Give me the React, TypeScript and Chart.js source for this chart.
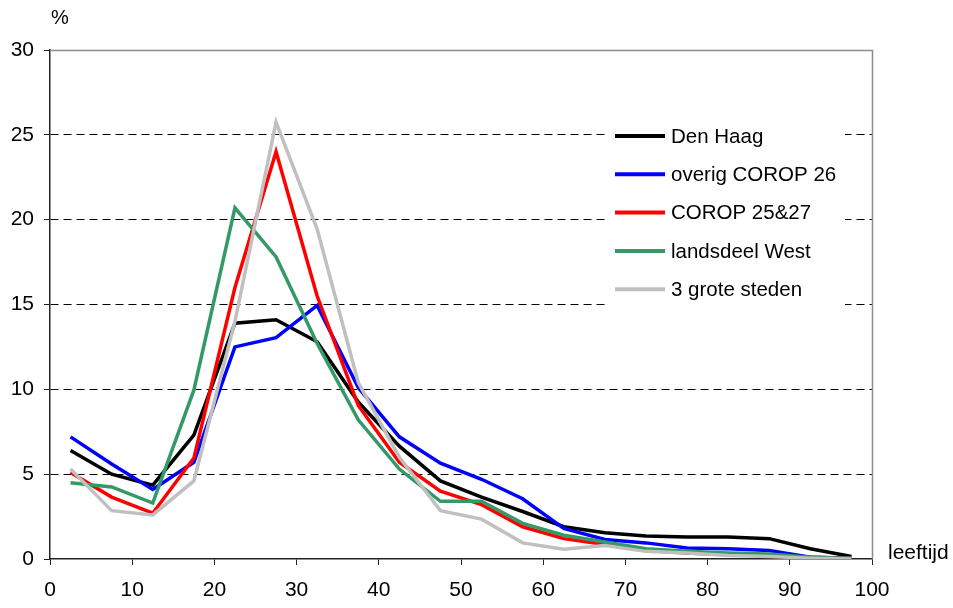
import React, { useEffect, useRef } from "react";
import { Chart, registerables } from "chart.js";

Chart.register(...registerables);

const ages = [2.5, 7.5, 12.5, 17.5, 22.5, 27.5, 32.5, 37.5, 42.5, 47.5, 52.5, 57.5, 62.5, 67.5, 72.5, 77.5, 82.5, 87.5, 92.5, 97.5];

const denHaag = [6.4, 5.0, 4.35, 7.3, 13.9, 14.1, 12.8, 9.25, 6.65, 4.6, 3.65, 2.8, 1.9, 1.55, 1.35, 1.3, 1.3, 1.2, 0.6, 0.15];
const overigCorop26 = [7.2, 5.6, 4.1, 5.7, 12.5, 13.05, 14.95, 10.1, 7.2, 5.65, 4.7, 3.55, 1.8, 1.15, 0.95, 0.65, 0.6, 0.5, 0.1, 0.05];
const corop2527 = [5.1, 3.65, 2.7, 5.95, 16.0, 24.0, 15.5, 9.05, 5.7, 4.0, 3.2, 1.9, 1.2, 0.85, 0.5, 0.35, 0.25, 0.2, 0.1, 0.05];
const landsdeelWest = [4.5, 4.25, 3.3, 9.95, 20.7, 17.8, 12.7, 8.2, 5.3, 3.4, 3.4, 2.1, 1.4, 1.0, 0.6, 0.45, 0.35, 0.3, 0.1, 0.05];
const groteSteden = [5.3, 2.85, 2.6, 4.6, 14.0, 25.75, 19.45, 10.4, 6.0, 2.85, 2.35, 0.95, 0.57, 0.8, 0.45, 0.35, 0.2, 0.15, 0.05, 0.0];

const seriesNames = ["Den Haag", "overig COROP 26", "COROP 25&27", "landsdeel West", "3 grote steden"];
const seriesColors = ["#000000", "#0000FF", "#FF0000", "#339966", "#C0C0C0"];
const seriesValues = [denHaag, overigCorop26, corop2527, landsdeelWest, groteSteden];

const yTicks = [0, 5, 10, 15, 20, 25, 30];
const xTicks = [0, 10, 20, 30, 40, 50, 60, 70, 80, 90, 100];
const yUnit = "%";
const xTitle = "leeftijd";

const FONT = "'Liberation Sans', Arial, sans-serif";

const legendBgPlugin = {
  id: "legendBg",
  beforeDatasetsDraw(chart: any) {
    const { ctx, chartArea } = chart;
    const { left, top } = chartArea;
    ctx.save();
    ctx.fillStyle = "#fff";
    ctx.fillRect(left + 558, top + 68, 237, 190);
    ctx.restore();
  },
};

const framePlugin = {
  id: "frameAndLegend",
  afterDraw(chart: any) {
    const { ctx, chartArea } = chart;
    const { left, right, top, bottom } = chartArea;
    ctx.save();
    // gray frame (top and right)
    ctx.strokeStyle = "#8c8c8c";
    ctx.lineWidth = 1.5;
    ctx.setLineDash([]);
    ctx.beginPath();
    ctx.moveTo(left, top + 0.5);
    ctx.lineTo(right + 0.5, top + 0.5);
    ctx.lineTo(right + 0.5, bottom);
    ctx.stroke();

    // axis titles
    ctx.fillStyle = "#000";
    ctx.font = `20px ${FONT}`;
    ctx.textBaseline = "middle";
    ctx.textAlign = "center";
    ctx.fillText(yUnit, left + 10, 18);
    ctx.textAlign = "left";
    ctx.font = `21px ${FONT}`;
    ctx.fillText(xTitle, right + 16, bottom - 6);

    // legend
    ctx.font = `20.5px ${FONT}`;
    const lx = left + 565;
    const ly0 = top + 86;
    const step = 38.3;
    seriesNames.forEach((name, i) => {
      const y = ly0 + i * step;
      ctx.strokeStyle = seriesColors[i];
      ctx.lineWidth = 4;
      ctx.beginPath();
      ctx.moveTo(lx, y);
      ctx.lineTo(lx + 50, y);
      ctx.stroke();
      ctx.fillStyle = "#000";
      ctx.textAlign = "left";
      ctx.textBaseline = "middle";
      ctx.fillText(name, lx + 56, y + 1);
    });
    ctx.restore();
  },
};

export default function App() {
  const ref = useRef<HTMLCanvasElement>(null);

  useEffect(() => {
    if (!ref.current) return;
    const datasets = seriesValues.map((vals, i) => ({
      label: seriesNames[i],
      data: vals.map((v, j) => ({ x: ages[j], y: v })),
      borderColor: seriesColors[i],
      backgroundColor: seriesColors[i],
      borderWidth: 3.5,
      pointRadius: 0,
      tension: 0,
      fill: false,
      order: seriesNames.length - i,
    }));

    const chart = new Chart(ref.current, {
      type: "line",
      data: { datasets },
      plugins: [legendBgPlugin, framePlugin],
      options: {
        animation: false,
        responsive: false,
        layout: { padding: { top: 50, right: 81, left: 0, bottom: 0 } },
        plugins: { legend: { display: false }, tooltip: { enabled: false } },
        scales: {
          x: {
            type: "linear",
            min: 0,
            max: 100,
            afterBuildTicks: (scale: any) => {
              scale.ticks = xTicks.map((v) => ({ value: v }));
            },
            afterFit: (scale: any) => {
              scale.height = 49;
            },
            ticks: {
              color: "#000",
              font: { family: FONT, size: 21 },
              padding: 13,
              maxRotation: 0,
              autoSkip: false,
            },
            grid: {
              drawOnChartArea: false,
              drawTicks: true,
              tickLength: 6,
              tickColor: "#222",
              color: "#222",
            },
            border: { display: true, color: "#222", width: 1.5 },
          },
          y: {
            type: "linear",
            min: 0,
            max: 30,
            afterBuildTicks: (scale: any) => {
              scale.ticks = yTicks.map((v) => ({ value: v }));
            },
            afterFit: (scale: any) => {
              scale.width = 50;
            },
            ticks: {
              color: "#000",
              font: { family: FONT, size: 21 },
              padding: 10,
            },
            grid: {
              drawTicks: true,
              tickLength: 6,
              tickColor: "#222",
              tickBorderDash: [],
              color: (c: any) => (c.tick && (c.tick.value === 0 || c.tick.value === 30) ? "rgba(0,0,0,0)" : "#000"),
              lineWidth: 1,
            },
            border: { display: true, color: "#222", width: 1.5, dash: [8, 5] },
          },
        },
      },
    });
    return () => chart.destroy();
  }, []);

  return (
    <div style={{ position: "absolute", left: 0, top: 0, width: 953, height: 608, background: "#fff" }}>
      <canvas ref={ref} width={953} height={608} style={{ display: "block" }} />
    </div>
  );
}
